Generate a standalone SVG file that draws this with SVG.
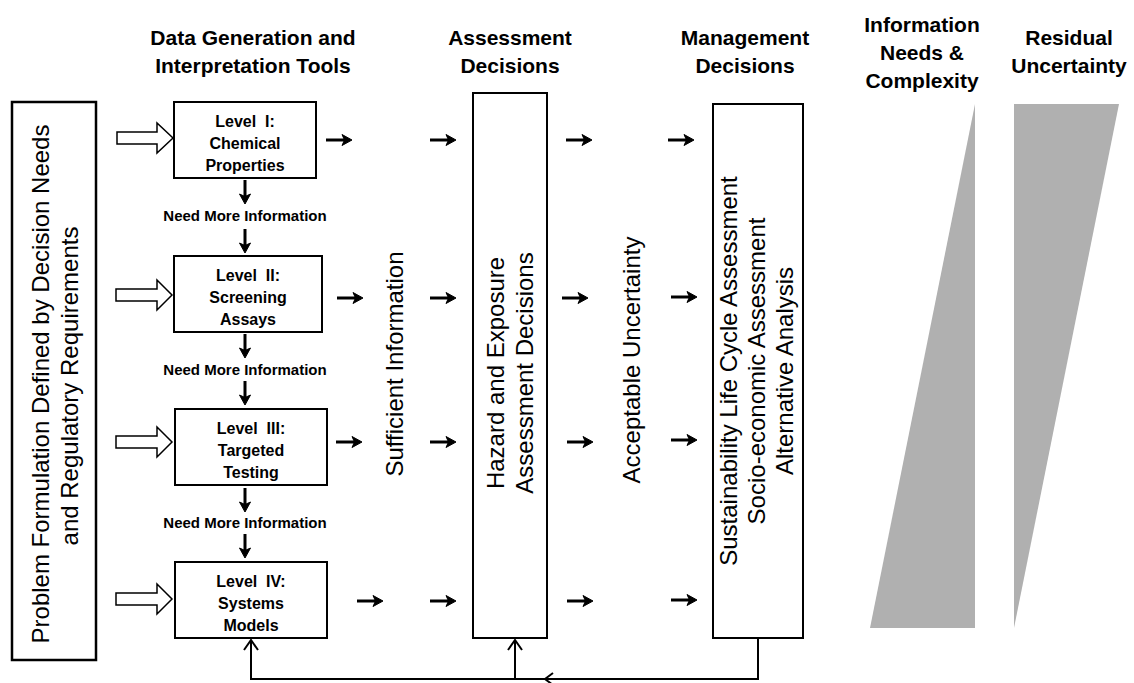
<svg xmlns="http://www.w3.org/2000/svg" width="1134" height="683" viewBox="0 0 1134 683">
<style>
.box{fill:#fff;stroke:#000;stroke-width:2}
.hdr{font-family:"Liberation Sans",Arial,sans-serif;font-weight:bold;font-size:21px;text-anchor:middle;fill:#000}
.lvl{font-family:"Liberation Sans",Arial,sans-serif;font-weight:bold;font-size:16px;text-anchor:middle;fill:#000}
.need{font-family:"Liberation Sans",Arial,sans-serif;font-weight:bold;font-size:15px;text-anchor:middle;fill:#000}
.rot{font-family:"Liberation Sans",Arial,sans-serif;font-size:24px;text-anchor:middle;fill:#000}
.hollow{fill:#fff;stroke:#000;stroke-width:1.5;stroke-linejoin:miter}
.shaft{stroke:#000;stroke-width:3;fill:none}
.head{fill:#000;stroke:#000;stroke-width:1;stroke-linejoin:round}
.line{stroke:#000;stroke-width:2;fill:none}
.gray{fill:#b0b0b0}
</style>
<defs>
<g id="sa"><line class="shaft" x1="0" y1="0" x2="19" y2="0"/><path class="head" d="M16,-5.5 L26,0 L16,5.5 L18.5,0 Z"/></g>
<g id="da"><line class="shaft" x1="0" y1="0" x2="0" y2="17"/><path class="head" d="M-5.5,14 L0,24 L5.5,14 L0,16.5 Z"/></g>
</defs>

<g id="headers">
<text class="hdr" x="253" y="45">Data Generation and</text>
<text class="hdr" x="253" y="73">Interpretation Tools</text>
<text class="hdr" x="510" y="45">Assessment</text>
<text class="hdr" x="510" y="73">Decisions</text>
<text class="hdr" x="745" y="45">Management</text>
<text class="hdr" x="745" y="73">Decisions</text>
<text class="hdr" x="922" y="32">Information</text>
<text class="hdr" x="922" y="60">Needs &amp;</text>
<text class="hdr" x="922" y="88">Complexity</text>
<text class="hdr" x="1069" y="45">Residual</text>
<text class="hdr" x="1069" y="73">Uncertainty</text>
</g>

<g id="problem">
<rect class="box" x="12" y="102" width="84" height="558" style="stroke-width:2.5"/>
<text class="rot" transform="translate(49,384) rotate(-90)">Problem Formulation Defined by Decision Needs</text>
<text class="rot" transform="translate(78,386) rotate(-90)">and Regulatory Requirements</text>
</g>

<g id="level1">
<rect class="box" x="174" y="102" width="142" height="76"/>
<text class="lvl" x="245" y="127" xml:space="preserve">Level  I:</text>
<text class="lvl" x="245" y="149">Chemical</text>
<text class="lvl" x="245" y="171">Properties</text>
</g>
<g id="level2">
<rect class="box" x="174" y="256" width="148" height="76"/>
<text class="lvl" x="248" y="281" xml:space="preserve">Level  II:</text>
<text class="lvl" x="248" y="303">Screening</text>
<text class="lvl" x="248" y="325">Assays</text>
</g>
<g id="level3">
<rect class="box" x="175" y="409" width="152" height="76"/>
<text class="lvl" x="251" y="434" xml:space="preserve">Level  III:</text>
<text class="lvl" x="251" y="456">Targeted</text>
<text class="lvl" x="251" y="478">Testing</text>
</g>
<g id="level4">
<rect class="box" x="175" y="562" width="152" height="76"/>
<text class="lvl" x="251" y="587" xml:space="preserve">Level  IV:</text>
<text class="lvl" x="251" y="609">Systems</text>
<text class="lvl" x="251" y="631">Models</text>
</g>

<g id="sufficient">
<text class="rot" transform="translate(403,364) rotate(-90)">Sufficient Information</text>
</g>

<g id="hazard">
<rect class="box" x="473" y="93" width="74" height="545"/>
<text class="rot" transform="translate(504,373) rotate(-90)">Hazard and Exposure</text>
<text class="rot" transform="translate(533,373) rotate(-90)">Assessment Decisions</text>
</g>

<g id="acceptable">
<text class="rot" transform="translate(640,360) rotate(-90)">Acceptable Uncertainty</text>
</g>

<g id="management">
<rect class="box" x="713" y="104" width="90" height="534"/>
<text class="rot" transform="translate(737,371) rotate(-90)">Sustainability Life Cycle Assessment</text>
<text class="rot" transform="translate(765,371) rotate(-90)">Socio-economic Assessment</text>
<text class="rot" transform="translate(793,371) rotate(-90)">Alternative Analysis</text>
</g>

<g id="info-needs">
<polygon class="gray" points="975,104 975,628 870,628"/>
</g>
<g id="residual">
<polygon class="gray" points="1014,104 1119,104 1014,628"/>
</g>

<g id="connectors">
<polygon class="hollow" points="117,132 157,132 157,123 173,138 157,153 157,144 117,144"/>
<polygon class="hollow" points="116,289 157,289 157,280 172,295 157,310 157,301 116,301"/>
<polygon class="hollow" points="116,436 157,436 157,427 172,442 157,457 157,448 116,448"/>
<polygon class="hollow" points="116,593 157,593 157,584 172,599 157,614 157,605 116,605"/>

<use href="#da" x="245" y="180"/>
<use href="#da" x="245" y="229"/>
<use href="#da" x="245" y="334"/>
<use href="#da" x="245" y="381"/>
<use href="#da" x="245" y="488"/>
<use href="#da" x="245" y="534"/>
<text class="need" x="245" y="221">Need More Information</text>
<text class="need" x="245" y="375">Need More Information</text>
<text class="need" x="245" y="528">Need More Information</text>

<use href="#sa" x="326" y="140"/>
<use href="#sa" x="430" y="140"/>
<use href="#sa" x="566" y="140"/>
<use href="#sa" x="668" y="140"/>
<use href="#sa" x="337" y="298"/>
<use href="#sa" x="430" y="298"/>
<use href="#sa" x="562" y="298"/>
<use href="#sa" x="671" y="297"/>
<use href="#sa" x="336" y="442"/>
<use href="#sa" x="430" y="442"/>
<use href="#sa" x="567" y="442"/>
<use href="#sa" x="671" y="440"/>
<use href="#sa" x="357" y="601"/>
<use href="#sa" x="430" y="601"/>
<use href="#sa" x="567" y="601"/>
<use href="#sa" x="671" y="600"/>

<path class="line" d="M758,638 V679 H251 V640"/>
<path class="line" d="M515,679 V640"/>
<path class="line" d="M244,650 L251,640 L258,650"/>
<path class="line" d="M508,650 L515,640 L522,650"/>
<path class="line" d="M553,673 L545,679 L553,685"/>
</g>
</svg>
